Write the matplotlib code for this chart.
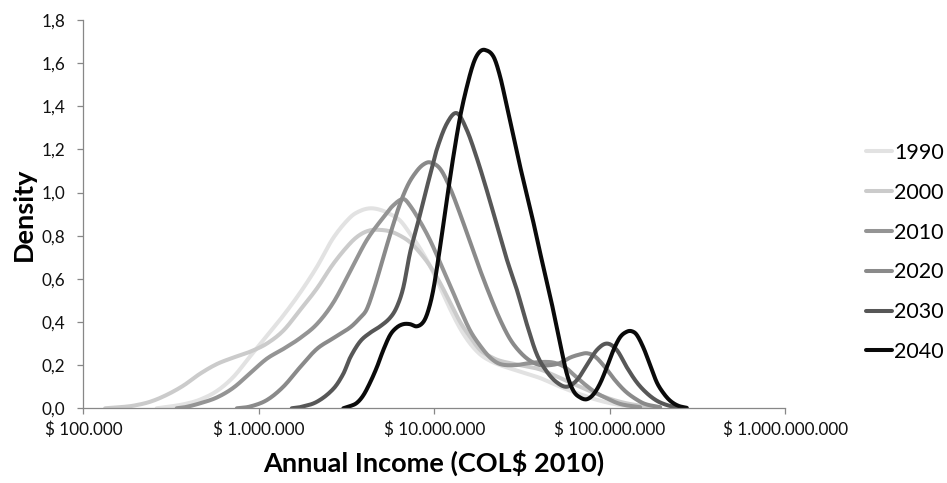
import numpy as np
import matplotlib
matplotlib.use("Agg")
import matplotlib.pyplot as plt

plt.rcParams["font.family"] = ["Lato", "DejaVu Sans"]

# ---- data: log10 of annual income (COL$ 2010) and density ----
years = ["1990", "2000", "2010", "2020", "2030", "2040"]
colors = ["#e2e2e2", "#cbcbcb", "#949494", "#8a8a8a", "#575757", "#0a0a0a"]

logx_1990 = [5.418, 5.494, 5.580, 5.665, 5.761, 5.855, 5.950, 6.046, 6.140, 6.235, 6.331, 6.425,
             6.521, 6.578, 6.635, 6.692, 6.749, 6.806, 6.862, 6.920, 6.976, 7.034, 7.091, 7.148,
             7.205, 7.262, 7.319, 7.376, 7.490, 7.604, 7.718, 7.832, 7.946, 8.060, 8.174]
dens_1990 = [0.0, 0.008, 0.02, 0.04, 0.08, 0.145, 0.24, 0.335, 0.43, 0.535, 0.655, 0.79,
             0.885, 0.915, 0.927, 0.92, 0.90, 0.87, 0.81, 0.74, 0.66, 0.56, 0.46, 0.37,
             0.30, 0.25, 0.22, 0.20, 0.17, 0.14, 0.10, 0.065, 0.035, 0.015, 0.005]

logx_2000 = [5.124, 5.209, 5.285, 5.380, 5.475, 5.570, 5.665, 5.761, 5.855, 5.950, 6.046, 6.140,
             6.235, 6.331, 6.425, 6.521, 6.578, 6.635, 6.692, 6.749, 6.806, 6.862, 6.920, 6.976,
             7.034, 7.091, 7.148, 7.205, 7.262, 7.319, 7.376, 7.490, 7.604, 7.718, 7.832, 7.946,
             8.060, 8.174, 8.288]
dens_2000 = [0.0, 0.005, 0.012, 0.03, 0.062, 0.105, 0.16, 0.205, 0.235, 0.262, 0.30, 0.36,
             0.455, 0.555, 0.67, 0.765, 0.805, 0.825, 0.827, 0.82, 0.80, 0.77, 0.72, 0.66,
             0.58, 0.49, 0.40, 0.33, 0.27, 0.24, 0.22, 0.20, 0.18, 0.14, 0.10, 0.06,
             0.03, 0.012, 0.003]

logx_2010 = [5.532, 5.580, 5.665, 5.761, 5.855, 5.950, 6.046, 6.140, 6.235, 6.331, 6.425, 6.521,
             6.616, 6.710, 6.766, 6.824, 6.862, 6.920, 6.976, 7.034, 7.091, 7.148, 7.205, 7.262,
             7.319, 7.376, 7.461, 7.547, 7.633, 7.689, 7.746, 7.803, 7.860, 7.917, 7.974, 8.060,
             8.174]
dens_2010 = [0.0, 0.005, 0.023, 0.05, 0.095, 0.162, 0.23, 0.275, 0.325, 0.39, 0.49, 0.635,
             0.78, 0.885, 0.94, 0.97, 0.94, 0.865, 0.78, 0.675, 0.57, 0.46, 0.36, 0.29,
             0.235, 0.205, 0.20, 0.21, 0.215, 0.21, 0.19, 0.15, 0.11, 0.075, 0.05, 0.02,
             0.005]

logx_2020 = [5.875, 5.950, 6.046, 6.140, 6.235, 6.331, 6.425, 6.521, 6.578, 6.616, 6.663, 6.710,
             6.758, 6.806, 6.853, 6.901, 6.938, 6.976, 7.034, 7.091, 7.148, 7.205, 7.262, 7.319,
             7.376, 7.433, 7.490, 7.547, 7.604, 7.661, 7.718, 7.775, 7.832, 7.872, 7.917, 7.974,
             8.031, 8.088, 8.145, 8.202, 8.288]
dens_2020 = [0.0, 0.008, 0.038, 0.10, 0.19, 0.275, 0.325, 0.375, 0.42, 0.46, 0.57, 0.70,
             0.83, 0.95, 1.04, 1.10, 1.13, 1.14, 1.11, 1.02, 0.90, 0.77, 0.64, 0.52,
             0.41, 0.32, 0.26, 0.22, 0.20, 0.20, 0.21, 0.235, 0.25, 0.255, 0.24, 0.19,
             0.13, 0.08, 0.045, 0.02, 0.005]

logx_2030 = [6.188, 6.235, 6.331, 6.425, 6.482, 6.521, 6.578, 6.635, 6.692, 6.749, 6.787, 6.824,
             6.862, 6.901, 6.938, 6.976, 7.015, 7.072, 7.129, 7.186, 7.243, 7.300, 7.357, 7.414,
             7.471, 7.528, 7.585, 7.642, 7.699, 7.756, 7.813, 7.870, 7.927, 7.984, 8.041, 8.098,
             8.155, 8.212, 8.269, 8.326, 8.383]
dens_2030 = [0.0, 0.005, 0.03, 0.09, 0.16, 0.235, 0.31, 0.35, 0.38, 0.42, 0.47, 0.56,
             0.72, 0.84, 0.96, 1.08, 1.20, 1.32, 1.368, 1.29, 1.16, 1.01, 0.85, 0.69,
             0.55, 0.39, 0.25, 0.17, 0.12, 0.10, 0.13, 0.20, 0.27, 0.30, 0.27, 0.19,
             0.12, 0.07, 0.035, 0.015, 0.004]

logx_2040 = [6.482, 6.521, 6.559, 6.596, 6.635, 6.673, 6.710, 6.749, 6.787, 6.824, 6.862, 6.901,
             6.938, 6.965, 6.995, 7.034, 7.072, 7.109, 7.148, 7.186, 7.224, 7.256, 7.290, 7.338,
             7.376, 7.414, 7.452, 7.490, 7.528, 7.566, 7.604, 7.661, 7.718, 7.756, 7.794, 7.832,
             7.870, 7.908, 7.946, 7.984, 8.022, 8.060, 8.098, 8.127, 8.155, 8.193, 8.231, 8.269,
             8.307, 8.345, 8.390, 8.440]
dens_2040 = [0.0, 0.01, 0.025, 0.06, 0.12, 0.19, 0.27, 0.34, 0.375, 0.39, 0.39, 0.38,
             0.40, 0.45, 0.55, 0.75, 0.966, 1.166, 1.352, 1.49, 1.60, 1.65, 1.661, 1.63,
             1.537, 1.40, 1.26, 1.12, 0.99, 0.86, 0.72, 0.52, 0.30, 0.16, 0.08, 0.05,
             0.042, 0.065, 0.116, 0.19, 0.27, 0.33, 0.355, 0.357, 0.34, 0.28, 0.20, 0.12,
             0.07, 0.035, 0.012, 0.002]

series_logx = [logx_1990, logx_2000, logx_2010, logx_2020, logx_2030, logx_2040]
series_dens = [dens_1990, dens_2000, dens_2010, dens_2020, dens_2030, dens_2040]

x_ticks = [1e5, 1e6, 1e7, 1e8, 1e9]
x_tick_labels = ["$ 100.000", "$ 1.000.000", "$ 10.000.000", "$ 100.000.000", "$ 1.000.000.000"]
y_ticks = [0.0, 0.2, 0.4, 0.6, 0.8, 1.0, 1.2, 1.4, 1.6, 1.8]
y_tick_labels = ["0,0", "0,2", "0,4", "0,6", "0,8", "1,0", "1,2", "1,4", "1,6", "1,8"]


def smooth_curve(x, y, n_per_seg=14):
    """Cubic Hermite curve with finite-difference tangents (a smoothed line)."""
    x = np.asarray(x, float)
    y = np.asarray(y, float)
    n = len(x)
    m = np.zeros(n)
    m[1:-1] = (y[2:] - y[:-2]) / (x[2:] - x[:-2])
    m[0] = (y[1] - y[0]) / (x[1] - x[0])
    m[-1] = (y[-1] - y[-2]) / (x[-1] - x[-2])
    xs, ys = [], []
    for k in range(n - 1):
        h = x[k + 1] - x[k]
        t = np.linspace(0, 1, n_per_seg, endpoint=False)
        h00 = 2 * t**3 - 3 * t**2 + 1
        h10 = t**3 - 2 * t**2 + t
        h01 = -2 * t**3 + 3 * t**2
        h11 = t**3 - t**2
        xs.append(x[k] + t * h)
        ys.append(h00 * y[k] + h10 * h * m[k] + h01 * y[k + 1] + h11 * h * m[k + 1])
    xs.append([x[-1]])
    ys.append([y[-1]])
    return np.concatenate(xs), np.clip(np.concatenate(ys), 0, None)


fig = plt.figure(figsize=(9.47, 4.83), dpi=100)
ax = fig.add_axes([0.0880, 0.1547, 0.7410, 0.8039])

for year, col, lx, dn in zip(years, colors, series_logx, series_dens):
    sx, sy = smooth_curve(lx, dn)
    ax.plot(10 ** sx, sy, color=col, lw=2.9, solid_capstyle="round",
            solid_joinstyle="round", label=year)

ax.set_xscale("log")
ax.set_xlim(1e5, 1e9)
ax.set_ylim(0, 1.8)
ax.set_xticks(x_ticks)
ax.set_xticklabels(x_tick_labels)
ax.xaxis.set_minor_locator(matplotlib.ticker.NullLocator())
ax.set_yticks(y_ticks)
ax.set_yticklabels(y_tick_labels)

for side in ("top", "right"):
    ax.spines[side].set_visible(False)
for side in ("left", "bottom"):
    ax.spines[side].set_color("#878787")
    ax.spines[side].set_linewidth(0.9)
ax.tick_params(axis="both", which="major", direction="out", length=4.3, width=0.9,
               color="#878787", labelsize=12.3, labelcolor="#111111")
ax.tick_params(axis="y", pad=8.5)
ax.tick_params(axis="x", pad=5.5)

ax.set_xlabel("Annual Income (COL$ 2010)", fontsize=19.5, fontweight="bold", labelpad=8)
ax.set_ylabel("Density", fontsize=19.5, fontweight="bold", labelpad=4.5)

fig.legend(loc="center left", bbox_to_anchor=(866 / 947, 1 - 252.5 / 483),
           frameon=False, fontsize=15.5, handlelength=1.2, handletextpad=0.1,
           labelspacing=0.92, borderpad=0, borderaxespad=0)

fig.savefig("out.png", dpi=100)
